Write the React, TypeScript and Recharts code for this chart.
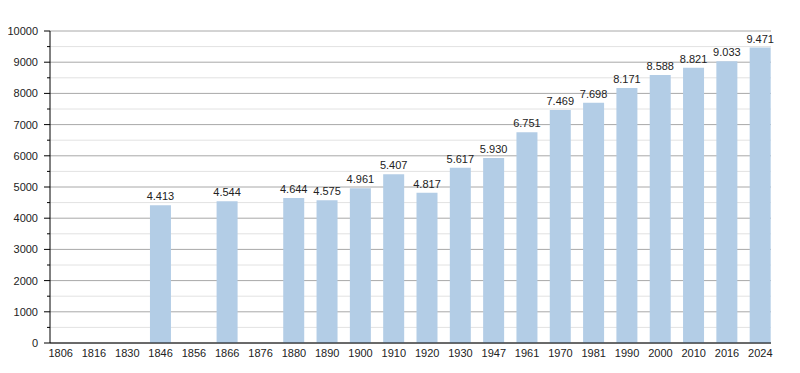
import { Bar, BarChart, CartesianGrid, LabelList, XAxis, YAxis } from "recharts"

const years = [
  "1806", "1816", "1830", "1846", "1856", "1866", "1876", "1880", "1890", "1900", "1910",
  "1920", "1930", "1947", "1961", "1970", "1981", "1990", "2000", "2010", "2016", "2024",
]

const population: (number | null)[] = [
  null, null, null, 4413, null, 4544, null, 4644, 4575, 4961, 5407,
  4817, 5617, 5930, 6751, 7469, 7698, 8171, 8588, 8821, 9033, 9471,
]

const yTicks = [
  0, 500, 1000, 1500, 2000, 2500, 3000, 3500, 4000, 4500, 5000,
  5500, 6000, 6500, 7000, 7500, 8000, 8500, 9000, 9500, 10000,
]

const data = years.map((year, i) => ({ year, value: population[i] }))

const formatValue = (v: unknown) =>
  typeof v === "number" ? String(v).replace(/\B(?=(\d{3})+(?!\d))/g, ".") : ""

const YTick = (props: any) => {
  const { x, y, payload } = props
  const major = payload.value % 1000 === 0
  return (
    <g>
      <line x1={x - (major ? 6 : 3)} x2={x} y1={y} y2={y} stroke="#000" />
      {major && (
        <text x={x - 12} y={y} dy={4} textAnchor="end" fontSize={11} fill="#222">
          {payload.value}
        </text>
      )}
    </g>
  )
}

const GridLine = (props: any) => {
  const { x1, x2, y1, y2, index } = props
  const major = index % 2 === 0
  return (
    <line
      key={`g-${index}`}
      x1={x1}
      x2={x2}
      y1={y1}
      y2={y2}
      stroke={major ? "#a8a8a8" : "#e2e2e2"}
      strokeWidth={1}
    />
  )
}

const App = () => {
  return (
    <div style={{ fontFamily: "'Liberation Sans', Arial, sans-serif" }}>
      <BarChart
        width={784}
        height={357}
        data={data}
        margin={{ top: 23, right: 21, bottom: 0, left: 0 }}
        barSize={21}
      >
        <CartesianGrid vertical={false} horizontal={GridLine} />
        <XAxis
          dataKey="year"
          padding={{ left: -6, right: -6 }}
          tickLine={false}
          axisLine={{ stroke: "#000" }}
          height={22}
          tickMargin={0}
          tick={{ fontSize: 11, fill: "#222" }}
          interval={0}
        />
        <YAxis
          width={42}
          domain={[0, 10000]}
          ticks={yTicks}
          interval={0}
          tickLine={false}
          tickSize={0}
          tickMargin={0}
          axisLine={{ stroke: "#000" }}
          tick={<YTick />}
        />
        <Bar dataKey="value" fill="#b3cde6" isAnimationActive={false}>
          <LabelList
            dataKey="value"
            position="top"
            offset={5}
            fontSize={11}
            fill="#222"
            formatter={formatValue}
          />
        </Bar>
      </BarChart>
    </div>
  )
}

export default App
